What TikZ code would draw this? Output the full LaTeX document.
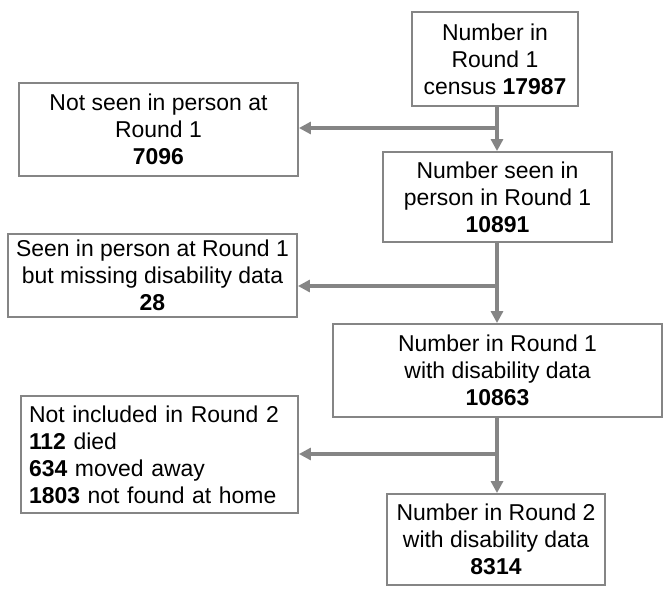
\documentclass[tikz,border=0pt]{standalone}
\usepackage{fontspec}
\setmainfont{Liberation Sans}
\usetikzlibrary{arrows.meta}
\definecolor{lin}{HTML}{858585}
\tikzset{
  box/.style={draw=lin, line width=1.4pt, rectangle, inner sep=0pt, align=center,
    font=\fontsize{17.2}{20.25}\selectfont},
  flow/.style={draw=lin, line width=2.4pt, -{Triangle[length=9pt,width=9pt]}},
  trunk/.style={draw=lin, line width=2.4pt}
}
\begin{document}
\begin{tikzpicture}[x=0.75pt,y=-0.75pt]
\useasboundingbox (0,0) rectangle (670,597);
\node[box, minimum width=124.5pt, minimum height=70.5pt] (A) at (495,59)
  {Number in\\Round 1\\census \textbf{17987}};
\node[box, minimum width=171.75pt, minimum height=67.5pt] (B) at (497.5,197)
  {Number seen in\\person in Round 1\\\textbf{10891}};
\node[box, minimum width=209.25pt, minimum height=69.75pt] (C) at (158.5,129.5)
  {Not seen in person at\\Round 1\\\textbf{7096}};
\node[box, minimum width=216.75pt, minimum height=62.25pt] (D) at (152.5,275.5)
  {Seen in person at Round 1\\ but missing disability data\\\textbf{28}};
\node[box, minimum width=246.75pt, minimum height=69.75pt] (E) at (497.5,370.5)
  {Number in Round 1\\with disability data\\\textbf{10863}};
\node[box, minimum width=207.75pt, minimum height=87.75pt, align=left,
  text width=195.75pt, inner xsep=6pt] (F) at (159.5,454.5)
  {Not included in Round 2\\\textbf{112} died\\\textbf{634} moved away\\\textbf{1803} not found at home};
\node[box, minimum width=163.5pt, minimum height=68.25pt] (G) at (496,539.5)
  {Number in Round 2\\with disability data\\\textbf{8314}};
\coordinate (j1) at (497,128);
\coordinate (j2) at (497,286);
\coordinate (j3) at (497,454);
\draw[trunk] (A.south -| j1) -- (j1);
\draw[flow] (j1) -- (B.north -| j1);
\draw[flow] (j1) -- (C.east |- j1);
\draw[trunk] (B.south -| j2) -- (j2);
\draw[flow] (j2) -- (E.north -| j2);
\draw[flow] (j2) -- (D.east |- j2);
\draw[trunk] (E.south -| j3) -- (j3);
\draw[flow] (j3) -- (G.north -| j3);
\draw[flow] (j3) -- (F.east |- j3);
\end{tikzpicture}
\end{document}
